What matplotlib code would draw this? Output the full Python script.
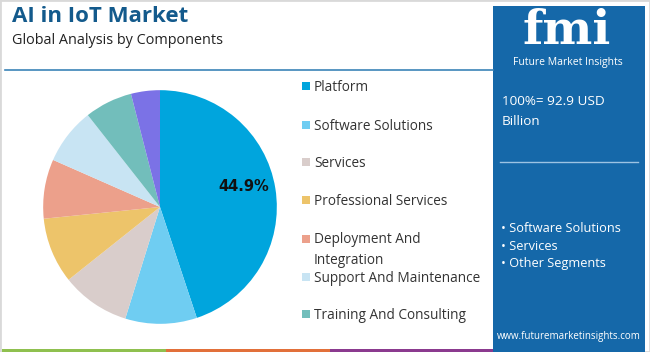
import matplotlib.pyplot as plt
import numpy as np
from matplotlib.patches import Rectangle

plt.rcParams["font.family"] = ["Open Sans", "DejaVu Sans"]

components = [
    "Platform",
    "Software Solutions",
    "Services",
    "Professional Services",
    "Deployment And\nIntegration",
    "Support And Maintenance",
    "Training And Consulting",
    "Others",
]
shares = [44.9, 9.9, 9.5, 9.1, 8.2, 7.8, 6.6, 4.0]
colors = ["#00a5dd", "#6fcdf2", "#d9cdcb", "#edc46a", "#eca08b", "#c8e4f3", "#72bebb", "#7b72e6"]
legend_rows = 7  # the purple slice has no legend row in the source

market_text = "100%= 92.9 USD\nBillion"
panel_bullets = ["Software Solutions", "Services", "Other Segments"]
bottom_strip = ["#8fc04f", "#e2703a", "#8b3a8f"]

W, H = 650, 352
fig = plt.figure(figsize=(W / 100, H / 100), dpi=100)
fig.patch.set_facecolor("white")


def fx(px):
    return px / W


def fy(py):
    return 1 - py / H


# outer frame and bottom colour strip
fig.add_artist(Rectangle((0, 0), 1, 1, transform=fig.transFigure, fill=False,
                         edgecolor="#d9d9d9", linewidth=2))
seg_w = 164
for i, c in enumerate(bottom_strip):
    fig.add_artist(Rectangle((fx(2 + i * seg_w), 0), fx(seg_w), 3 / H,
                             transform=fig.transFigure, color=c, linewidth=0))

# title block
fig.text(fx(12), fy(17), "AI in IoT Market", fontsize=16, fontweight="bold",
         color="#135a8c", va="center", ha="left")
fig.text(fx(12), fy(41), "Global Analysis by Components", fontsize=10.4,
         color="#222222", va="center", ha="left")
fig.add_artist(plt.Line2D([fx(5), fx(493)], [fy(70), fy(70)], transform=fig.transFigure,
                          color="#3b84b8", linewidth=1.2))

# pie
ax = fig.add_axes([fx(42), 27 / H, 236 / W, 236 / H])
wedges, _ = ax.pie(shares, colors=colors, startangle=90, counterclock=False, radius=1.0)
ax.set_xlim(-1.01, 1.01)
ax.set_ylim(-1.01, 1.01)
ax.set_aspect("equal")
w0 = wedges[0]
mid = np.deg2rad((w0.theta1 + w0.theta2) / 2)
ax.text(0.73 * np.cos(mid), 0.73 * np.sin(mid) + 0.06, f"{shares[0]}%", fontsize=10.5,
        fontweight="bold", color="#111111", ha="center", va="center",
        family=["DejaVu Sans"])

# legend
row_y = [86, 125, 162, 200, 239, 277, 314]
for name, c, y in zip(components[:legend_rows], colors[:legend_rows], row_y):
    fig.add_artist(Rectangle((fx(302), fy(y + 4)), 8 / W, 8 / H,
                             transform=fig.transFigure, color=c, linewidth=0))
    if "\n" in name:
        fig.text(fx(314), fy(y - 7), name, fontsize=9.8, color="#333333",
                 va="top", ha="left", linespacing=1.55)
    else:
        fig.text(fx(314), fy(y + 1.5), name, fontsize=9.8, color="#333333",
                 va="center", ha="left")

# right panel
fig.add_artist(Rectangle((fx(493), 0), 152 / W, fy(6), transform=fig.transFigure,
                         color="#1568a9", linewidth=0))
fig.text(fx(567), fy(31), "fmi", fontsize=34, fontweight="bold", family=["DejaVu Serif"],
         color="white", ha="center", va="center")
fig.text(fx(568), fy(62), "Future Market Insights", fontsize=7.5, color="white",
         ha="center", va="center")
fig.text(fx(502), fy(112), market_text, fontsize=9.7, color="white", ha="left",
         va="center", linespacing=1.7)
fig.add_artist(plt.Line2D([fx(500), fx(638)], [fy(162), fy(162)], transform=fig.transFigure,
                          color="#9cc3e3", linewidth=1))
for i, b in enumerate(panel_bullets):
    fig.text(fx(501), fy(229 + i * 17), "\u2022 " + b, fontsize=9.2, color="white",
             ha="left", va="center")
fig.text(fx(569), fy(337), "www.futuremarketinsights.com", fontsize=7, color="white",
         ha="center", va="center")

fig.savefig("out.png", dpi=100)
